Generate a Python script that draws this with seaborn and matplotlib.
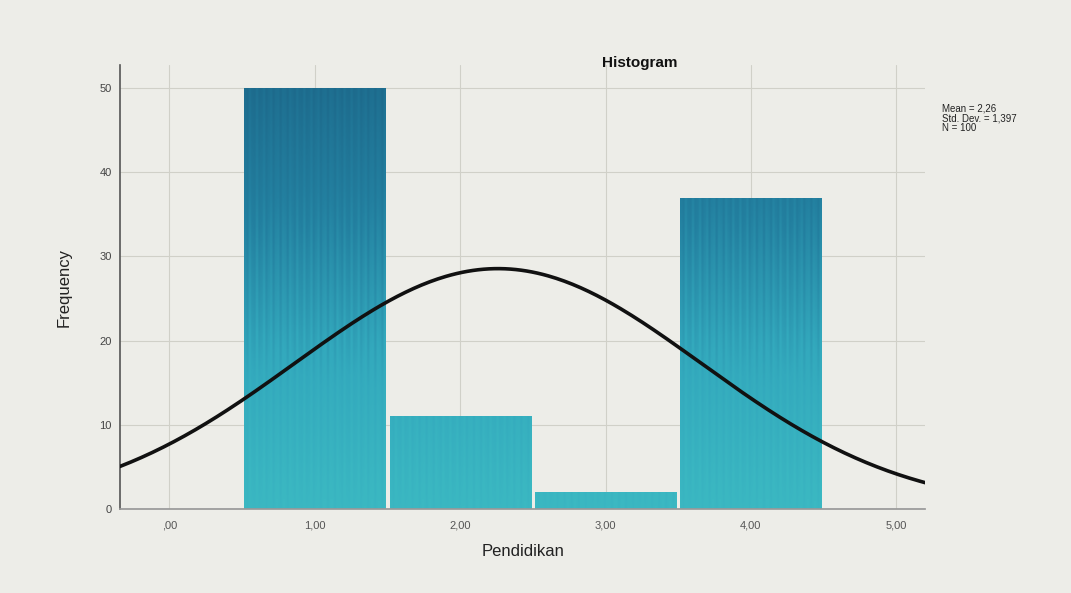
import numpy as np
import pandas as pd
import matplotlib
matplotlib.use("Agg")
import matplotlib.pyplot as plt
import seaborn as sns

# ---- data ----
categories = [1, 2, 3, 4]
counts = [50, 11, 2, 37]
x_ticks = [0, 1, 2, 3, 4, 5]
x_tick_labels = [",00", "1,00", "2,00", "3,00", "4,00", "5,00"]
y_ticks = [0, 10, 20, 30, 40, 50]
stats_text = "Mean = 2,26\nStd. Dev. = 1,397\nN = 100"

vals = np.repeat(categories, counts)
n = len(vals)
mean = vals.mean()
sd = vals.std(ddof=1)

bg = "#ededE8"
sns.set_theme(style="white")
plt.rcParams["font.family"] = ["Liberation Sans", "DejaVu Sans"]

fig = plt.figure(figsize=(10.71, 5.93), dpi=100, facecolor=bg)
ax = fig.add_axes([0.112, 0.1417, 0.752, 0.748], facecolor=bg)

df = pd.DataFrame({"Pendidikan": categories, "Frequency": counts})
sns.histplot(data=df, x="Pendidikan", weights="Frequency", discrete=True,
             shrink=0.97, ax=ax, color="#2a9db4", edgecolor="none", alpha=1, zorder=2)

# gradient fill with vertical stripes inside the bars
cmap = matplotlib.colors.LinearSegmentedColormap.from_list(
    "g", ["#3bb8c2", "#33a9bd", "#2380a0", "#1d6a8c"])
ny, nx = 200, 60
grad = np.linspace(0, 1, ny)[:, None] * np.ones((1, nx))
stripes = 0.06 * np.sin(np.arange(nx) * 2.2)[None, :]
img = np.clip(grad + stripes, 0, 1)
ymax_full = 52.7
for p in list(ax.patches):
    x0, w, h = p.get_x(), p.get_width(), p.get_height()
    im = ax.imshow(img, cmap=cmap, vmin=0, vmax=1, origin="lower",
                   extent=[x0, x0 + w, 0, ymax_full], aspect="auto", zorder=2.5)
    im.set_clip_path(p)

# normal curve
xs = np.linspace(-0.34, 5.2, 300)
ys = n * 1.0 * np.exp(-0.5 * ((xs - mean) / sd) ** 2) / (sd * np.sqrt(2 * np.pi))
ax.plot(xs, ys, color="#111111", lw=2.6, zorder=4)

ax.set_xlim(-0.34, 5.2)
ax.set_ylim(0, ymax_full)
ax.set_xticks(x_ticks)
ax.set_xticklabels(x_tick_labels, fontsize=8, color="#555555")
ax.set_yticks(y_ticks)
ax.set_yticklabels([str(v) for v in y_ticks], fontsize=8, color="#444444")
ax.grid(True, color="#d0d0c8", lw=0.8, zorder=0)
ax.set_axisbelow(True)
for s in ["top", "right"]:
    ax.spines[s].set_visible(False)
ax.spines["left"].set_color("#555555")
ax.spines["bottom"].set_color("#999999")
ax.spines["left"].set_linewidth(1.2)
ax.tick_params(axis="y", length=0, pad=6)
ax.tick_params(axis="x", length=0, pad=8)
ax.set_xlabel("Pendidikan", fontsize=12, color="#222222", labelpad=10)
ax.set_ylabel("Frequency", fontsize=12, color="#222222", labelpad=20)

fig.text(640 / 1071, 1 - 63 / 593, "Histogram", fontsize=11, fontweight="bold",
         ha="center", va="center", color="#111111")
fig.text(942 / 1071, 1 - 103 / 593, stats_text, fontsize=7, ha="left", va="top",
         color="#222222", linespacing=1.0)

fig.savefig("out.png", dpi=100, facecolor=bg)
